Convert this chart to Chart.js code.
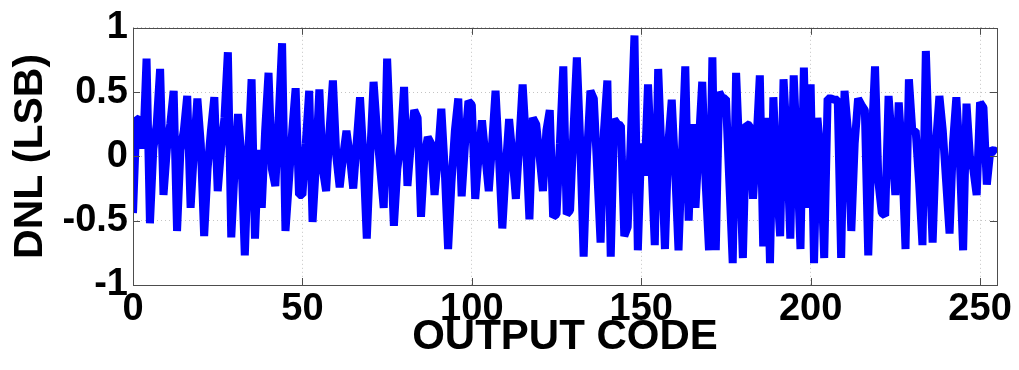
<!DOCTYPE html>
<html>
<head>
<meta charset="utf-8">
<title>DNL</title>
<script src="https://cdn.jsdelivr.net/npm/chart.js@4/dist/chart.umd.min.js"></script>
<style>
  html, body { margin: 0; padding: 0; background: #fff; }
  #wrap { width: 1019px; height: 370px; position: relative; }
</style>
</head>
<body>
<div id="wrap"><canvas id="dnlChart"></canvas></div>
<script>
/* DNL per output code, 8-bit converter */

// Output codes 0..255 (x positions)
const codes = Array.from({ length: 256 }, (_, i) => i);

// DNL in LSB for each code
const dnl = [
  -0.44, 0.28, 0.30, 0.06, 0.76, -0.52, 0.06, 0.25, 0.68, -0.30,
   0.06, 0.25, 0.51, -0.58, 0.05, 0.20, 0.47, -0.40, 0.05, 0.45,
   0.10, -0.62, -0.10, 0.20, 0.46, -0.27, 0.06, 0.30, 0.81, -0.63,
  -0.09, 0.33, 0.00, -0.77, 0.00, 0.60, -0.64, 0.05, -0.40, 0.20,
   0.65, -0.10, -0.23, 0.30, 0.88, -0.58, -0.20, 0.20, 0.53, -0.30,
  -0.30, 0.10, 0.51, -0.51, -0.05, 0.52, -0.10, -0.27, 0.20, 0.59,
   0.00, -0.24, 0.00, 0.20, 0.00, -0.25, 0.10, 0.46, 0.00, -0.64,
   0.00, 0.58, 0.20, -0.10, -0.40, 0.76, 0.10, -0.54, -0.10, 0.10,
   0.54, -0.23, 0.10, 0.36, 0.30, -0.47, 0.00, 0.15, 0.10, -0.30,
   0.00, 0.37, -0.10, -0.72, -0.20, 0.20, 0.45, -0.31, 0.10, 0.43,
   0.40, -0.33, 0.00, 0.28, 0.00, -0.27, 0.10, 0.51, 0.00, -0.56,
  -0.10, 0.29, 0.00, -0.33, 0.10, 0.56, 0.10, -0.49, 0.30, 0.25,
   0.00, -0.27, 0.20, 0.36, -0.47, -0.45, 0.10, 0.70, -0.45, -0.42,
   0.20, 0.77, 0.10, -0.78, 0.00, 0.51, 0.45, -0.10, -0.67, 0.20,
   0.59, -0.78, 0.29, 0.25, 0.24, -0.62, -0.55, 0.20, 0.94, -0.73,
   0.10, -0.15, 0.56, -0.05, -0.69, 0.68, 0.00, -0.72, 0.10, 0.44,
  -0.10, -0.73, 0.00, 0.70, -0.50, 0.25, -0.40, 0.10, 0.58, -0.20,
  -0.73, 0.77, -0.73, 0.50, 0.45, 0.45, -0.20, -0.83, 0.65, 0.00,
  -0.79, 0.25, 0.24, -0.33, 0.10, 0.63, -0.70, 0.30, -0.83, 0.46,
  -0.20, -0.62, 0.60, 0.10, -0.64, 0.63, 0.00, -0.72, 0.69, -0.40,
   0.56, -0.83, 0.30, 0.00, -0.79, 0.45, 0.45, 0.44, 0.44, -0.79,
   0.51, 0.20, -0.58, 0.10, 0.45, 0.40, 0.36, -0.77, 0.10, 0.70,
  -0.20, -0.44, -0.46, 0.47, 0.10, -0.30, 0.42, 0.00, -0.72, 0.60,
   0.20, 0.20, -0.20, -0.69, 0.82, 0.00, -0.67, 0.10, 0.47, 0.20,
  -0.20, -0.60, 0.10, 0.46, 0.00, -0.73, 0.41, 0.00, -0.10, -0.30,
   0.42, 0.38, -0.22, 0.04, 0.05, 0.03
];

// Axis ticks
const xTicks = [0, 50, 100, 150, 200, 250];
const yTicks = [-1, -0.5, 0, 0.5, 1];

const axisColor = '#4d4d4d';
const fontFamily = '"Liberation Sans", Arial, sans-serif';

// MATLAB-style box with inward tick marks on all four sides
const boxTicks = {
  id: 'boxTicks',
  afterDatasetsDraw(chart) {
    const { ctx, chartArea: a, scales: { x, y } } = chart;
    const len = 7;
    ctx.save();
    ctx.strokeStyle = axisColor;
    ctx.lineWidth = 1;
    ctx.beginPath();
    xTicks.forEach(v => {
      const px = Math.round(x.getPixelForValue(v)) + 0.5;
      ctx.moveTo(px, a.bottom); ctx.lineTo(px, a.bottom - len);
      ctx.moveTo(px, a.top);    ctx.lineTo(px, a.top + len);
    });
    yTicks.forEach(v => {
      const py = Math.round(y.getPixelForValue(v)) + 0.5;
      ctx.moveTo(a.left, py);  ctx.lineTo(a.left + len, py);
      ctx.moveTo(a.right, py); ctx.lineTo(a.right - len, py);
    });
    ctx.stroke();
    ctx.strokeRect(Math.round(a.left) + 0.5, Math.round(a.top) + 0.5,
                   Math.round(a.right - a.left), Math.round(a.bottom - a.top));
    ctx.restore();
  }
};

new Chart(document.getElementById('dnlChart'), {
  type: 'line',
  data: {
    datasets: [{
      data: codes.map((c, i) => ({ x: c, y: dnl[i] })),
      borderColor: '#0000ff',
      borderWidth: 8,
      borderJoinStyle: 'bevel',
      pointRadius: 0,
      tension: 0,
      fill: false,
    }]
  },
  options: {
    responsive: true,
    maintainAspectRatio: false,
    animation: false,
    layout: { padding: { left: 0, top: 25, right: 22, bottom: 0 } },
    plugins: {
      legend: { display: false },
      tooltip: { enabled: false },
    },
    scales: {
      x: {
        type: 'linear',
        min: 0,
        max: 255,
        afterBuildTicks: s => { s.ticks = xTicks.map(v => ({ value: v })); },
        afterFit: s => { s.height = 85; },
        grid: { color: '#c4c4c4', lineWidth: 1, drawTicks: false },
        border: { display: false, dash: [1, 3] },
        ticks: {
          color: '#000',
          padding: 2,
          maxRotation: 0,
          font: { family: fontFamily, size: 38, weight: 'bold' },
          callback: v => String(v),
        },
        title: {
          display: true,
          text: 'OUTPUT CODE',
          color: '#000',
          padding: { top: 0, bottom: 7 },
          font: { family: fontFamily, size: 42, weight: 'bold' },
        }
      },
      y: {
        min: -1,
        max: 1,
        afterBuildTicks: s => { s.ticks = yTicks.map(v => ({ value: v })); },
        afterFit: s => { s.width = 133; },
        grid: { color: '#c4c4c4', lineWidth: 1, drawTicks: false },
        border: { display: false, dash: [1, 3] },
        ticks: {
          color: '#000',
          padding: 5,
          font: { family: fontFamily, size: 38, weight: 'bold' },
          callback: v => String(v),
        },
        title: {
          display: true,
          text: 'DNL (LSB)',
          color: '#000',
          padding: { top: 6, bottom: 0 },
          font: { family: fontFamily, size: 41, weight: 'bold' },
        }
      }
    }
  },
  plugins: [boxTicks]
});
</script>
</body>
</html>
